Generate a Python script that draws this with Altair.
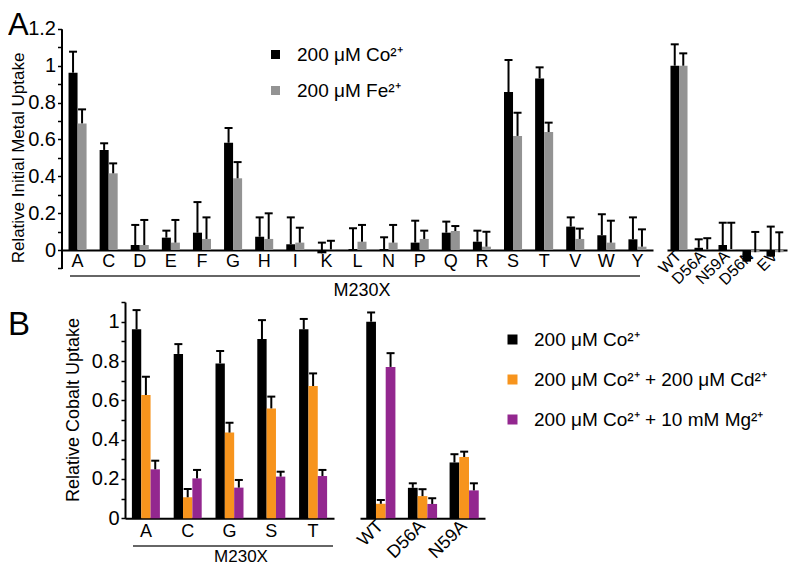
import altair as alt
import pandas as pd

FONT = "Liberation Sans"
W, H = 780, 559

# ---------------- Panel A data ----------------
a_mut = ["A", "C", "D", "E", "F", "G", "H", "I", "K", "L", "N", "P", "Q", "R", "S", "T", "V", "W", "Y"]
a_co = [0.962, 0.543, 0.027, 0.067, 0.094, 0.582, 0.072, 0.031, -0.018, 0.005, 0.005, 0.040, 0.094, 0.045, 0.857, 0.931, 0.127, 0.080, 0.058]
a_co_err = [1.076, 0.579, 0.136, 0.105, 0.260, 0.662, 0.177, 0.177, 0.040, 0.118, 0.069, 0.159, 0.154, 0.105, 1.031, 0.991, 0.177, 0.194, 0.177]
a_fe = [0.687, 0.416, 0.027, 0.040, 0.060, 0.389, 0.060, 0.040, 0.003, 0.045, 0.040, 0.060, 0.103, 0.018, 0.619, 0.640, 0.060, 0.040, 0.018]
a_fe_err = [0.763, 0.470, 0.163, 0.163, 0.177, 0.477, 0.199, 0.121, 0.050, 0.136, 0.136, 0.105, 0.130, 0.099, 0.745, 0.691, 0.116, 0.159, 0.112]

a_ctrl = ["WT", "D56A", "N59A", "D56N", "EV"]
a_ctrl_co = [1.0, 0.012, 0.027, -0.063, -0.036]
a_ctrl_co_err = [1.116, 0.058, 0.148, -0.025, 0.127]
a_ctrl_fe = [1.0, 0.003, 0.005, -0.012, -0.012]
a_ctrl_fe_err = [1.067, 0.064, 0.148, 0.098, 0.096]

a_series = ["200 μM Co²⁺", "200 μM Fe²⁺"]
a_colors = ["#000000", "#939393"]

# ---------------- Panel B data ----------------
b_mut = ["A", "C", "G", "S", "T"]
b_co = [0.961, 0.836, 0.788, 0.912, 0.961]
b_co_err = [1.059, 0.886, 0.851, 1.008, 1.014]
b_cd = [0.627, 0.107, 0.436, 0.559, 0.673]
b_cd_err = [0.720, 0.149, 0.486, 0.619, 0.737]
b_mg = [0.249, 0.203, 0.156, 0.212, 0.215]
b_mg_err = [0.293, 0.246, 0.195, 0.237, 0.246]

b_ctrl = ["WT", "D56A", "N59A"]
b_ctrl_co = [1.0, 0.155, 0.284]
b_ctrl_co_err = [1.047, 0.178, 0.326]
b_ctrl_cd = [0.074, 0.113, 0.312]
b_ctrl_cd_err = [0.093, 0.148, 0.339]
b_ctrl_mg = [0.770, 0.073, 0.142]
b_ctrl_mg_err = [0.840, 0.102, 0.178]

b_series = ["200 μM Co²⁺", "200 μM Co²⁺ + 200 μM Cd²⁺", "200 μM Co²⁺ + 10 mM Mg²⁺"]
b_colors = ["#000000", "#f7941d", "#93278f"]

a_ticks = [-0.1, 0.0, 0.1, 0.2, 0.3, 0.4, 0.5, 0.6, 0.7, 0.8, 0.9, 1.0, 1.1, 1.2]
b_ticks = [0.0, 0.1, 0.2, 0.3, 0.4, 0.5, 0.6, 0.7, 0.8, 0.9, 1.0, 1.1]


def long_table(cats, series, values, errs):
    rows = []
    for s, vals, es in zip(series, values, errs):
        for c, v, e in zip(cats, vals, es):
            rows.append({"cat": c, "series": s, "value": v, "err": e})
    return pd.DataFrame(rows)


df_a = long_table(a_mut, a_series, [a_co, a_fe], [a_co_err, a_fe_err])
df_a2 = long_table(a_ctrl, a_series, [a_ctrl_co, a_ctrl_fe], [a_ctrl_co_err, a_ctrl_fe_err])
df_b = long_table(b_mut, b_series, [b_co, b_cd, b_mg], [b_co_err, b_cd_err, b_mg_err])
df_b2 = long_table(b_ctrl, b_series, [b_ctrl_co, b_ctrl_cd, b_ctrl_mg], [b_ctrl_co_err, b_ctrl_cd_err, b_ctrl_mg_err])

label_expr = "round(datum.value*10) % 2 == 0 ? format(datum.value, '~g') : ''"


def panel(df, cats, series, colors, xrange, pad_inner, ydomain, yrange, zero_y,
          yticks=None, y_axis_x=None, legend=None, label_angle=0, label_size=18,
          label_pad=2):
    if label_angle == 0:
        xaxis = alt.Axis(title=None, orient="bottom", offset=zero_y - H, ticks=False, tickSize=0,
                         domainColor="black", domainWidth=2, labelFontSize=label_size,
                         labelPadding=label_pad, labelColor="black", labelAngle=0)
    else:
        xaxis = alt.Axis(title=None, orient="bottom", offset=zero_y - H, ticks=False, tickSize=0,
                         domainColor="black", domainWidth=2, labelFontSize=label_size,
                         labelPadding=label_pad, labelColor="black", labelAngle=label_angle,
                         labelAlign="right", labelBaseline="middle")
    x = alt.X("cat:N", sort=cats, axis=xaxis,
              scale=alt.Scale(range=xrange, paddingInner=pad_inner, paddingOuter=pad_inner / 2))
    xo = alt.XOffset("series:N", sort=series, scale=alt.Scale(paddingInner=0, paddingOuter=0))
    if yticks is not None:
        yaxis = alt.Axis(title=None, orient="left", offset=-y_axis_x, values=yticks,
                         labelExpr=label_expr, grid=False, domainColor="black", domainWidth=2,
                         tickColor="black", tickSize=4, tickWidth=1.5, labelFontSize=20,
                         labelPadding=2, labelColor="black")
    else:
        yaxis = None
    yscale = alt.Scale(domain=ydomain, range=yrange, nice=False, zero=False)
    base = alt.Chart(df)
    bars = base.mark_bar(strokeWidth=0).encode(
        x=x, xOffset=xo,
        y=alt.Y("value:Q", scale=yscale, axis=yaxis),
        color=alt.Color("series:N", sort=series,
                        scale=alt.Scale(domain=series, range=colors),
                        legend=legend),
    )
    rules = base.mark_rule(color="black", strokeWidth=2).encode(
        x=x, xOffset=xo,
        y=alt.Y("value:Q", scale=yscale, axis=yaxis),
        y2="err:Q",
    )
    caps = base.mark_tick(color="black", thickness=2, size=8, opacity=1).encode(
        x=x, xOffset=xo,
        y=alt.Y("err:Q", scale=yscale, axis=yaxis),
    )
    return alt.layer(bars, rules, caps)


# Panel A geometry (plot coordinates)
a_zero = 242.0
a_unit = 184.3
a_yrange = [a_zero + 0.1 * a_unit, a_zero - 1.2 * a_unit]

b_zero = 510.3
b_unit = 196.6
b_yrange = [b_zero, b_zero - 1.1 * b_unit]

legend_a = alt.Legend(title=None, orient="none", legendX=258, legendY=37, symbolType="square",
                      symbolSize=81, symbolStrokeWidth=0, labelFontSize=19, labelOffset=12,
                      rowPadding=16, padding=0, labelColor="black", labelLimit=400)
legend_b = alt.Legend(title=None, orient="none", legendX=495, legendY=322, symbolType="square",
                      symbolSize=100, symbolStrokeWidth=0, labelFontSize=19, labelOffset=12,
                      rowPadding=20, padding=0, labelColor="black", labelLimit=400)

pA = panel(df_a, a_mut, a_series, a_colors, [54, 645], 0.42, [-0.1, 1.2], a_yrange, a_zero,
           yticks=a_ticks, y_axis_x=53.5, legend=legend_a, label_size=18, label_pad=2)
pA2 = panel(df_a2, a_ctrl, a_series, a_colors, [659, 779], 0.29, [-0.1, 1.2], a_yrange, a_zero,
            label_angle=-45, label_size=16, label_pad=3)
pB = panel(df_b, b_mut, b_series, b_colors, [117, 326], 0.33, [0, 1.1], b_yrange, b_zero,
           yticks=b_ticks, y_axis_x=117, legend=legend_b, label_size=18, label_pad=4)
pB2 = panel(df_b2, b_ctrl, b_series, b_colors, [352, 477], 0.30, [0, 1.1], b_yrange, b_zero,
            label_angle=-45, label_size=18, label_pad=5)

dummy = pd.DataFrame({"k": [0]})


def text(t, x, y, size, angle=0, align="left", baseline="alphabetic"):
    kw = dict(text=t, fontSize=size, align=align, baseline=baseline, color="black", font=FONT)
    if angle:
        kw["angle"] = angle
    return alt.Chart(dummy).mark_text(**kw).encode(x=alt.value(x), y=alt.value(y))


def hline(x1, x2, y):
    return alt.Chart(dummy).mark_rule(color="#333333", strokeWidth=1.5).encode(
        x=alt.value(x1), x2=alt.value(x2), y=alt.value(y))


annotations = [
    text("A", 0, 27, 31),
    text("B", 0, 327, 33),
    text("Relative Initial Metal Uptake", 11, 150, 17, angle=270, align="center", baseline="middle"),
    text("Relative Cobalt Uptake", 66, 402, 18, angle=270, align="center", baseline="middle"),
    hline(62, 632, 268),
    text("M230X", 354, 288, 18, align="center"),
    hline(125, 325, 538),
    text("M230X", 233, 554, 17, align="center"),
]

chart = alt.layer(pA, pA2, pB, pB2, *annotations).resolve_scale(
    x="independent", y="independent", xOffset="independent", color="independent"
).properties(
    width=W, height=H, padding=0, autosize=alt.AutoSizeParams(type="none")
).configure(font=FONT).configure_view(stroke=None)

chart.save("out.html", embed_options={"renderer": "svg", "actions": False})
